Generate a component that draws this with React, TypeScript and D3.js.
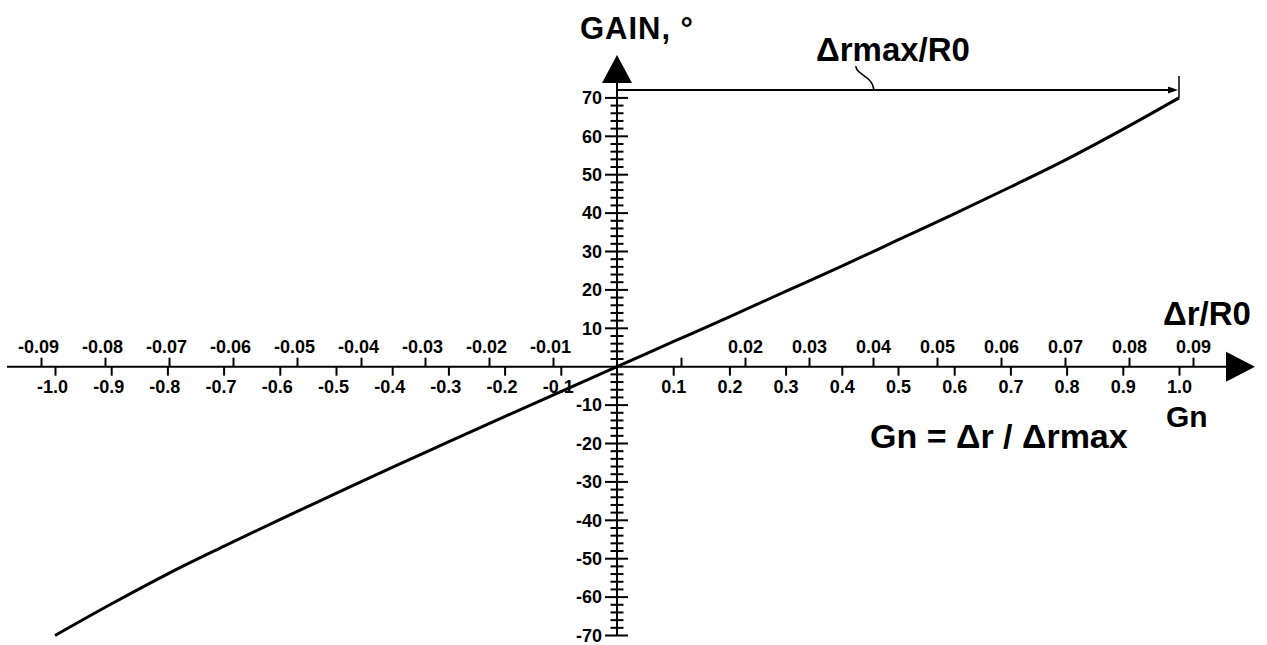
import React, { useEffect, useRef } from 'react';
import * as d3 from 'd3';

// normalised gain Gn (x) against GAIN in degrees (y)
const gnValues = [-1.0, -0.9, -0.8, -0.7, -0.6, -0.5, -0.4, -0.3, -0.2, -0.1, 0, 0.1, 0.2, 0.3, 0.4, 0.5, 0.6, 0.7, 0.8, 0.9, 1.0];
const gainValues = [-70, -61.8, -54, -46.8, -39.8, -33, -26.2, -19.6, -13, -6.5, 0, 6.5, 13, 19.6, 26.2, 33, 39.8, 46.8, 54, 61.8, 70];

const gnTicks = [-1.0, -0.9, -0.8, -0.7, -0.6, -0.5, -0.4, -0.3, -0.2, -0.1, 0.1, 0.2, 0.3, 0.4, 0.5, 0.6, 0.7, 0.8, 0.9, 1.0];
const rTicks = [-0.09, -0.08, -0.07, -0.06, -0.05, -0.04, -0.03, -0.02, -0.01, 0.01, 0.02, 0.03, 0.04, 0.05, 0.06, 0.07, 0.08, 0.09];
const rHiddenLabels = [0.01];
const gainMajor = [-70, -60, -50, -40, -30, -20, -10, 10, 20, 30, 40, 50, 60, 70];
const gainMinorStep = 2;

const FONT = '"Liberation Sans", Arial, Helvetica, sans-serif';

const App = () => {
  const svgRef = useRef<SVGSVGElement>(null);

  useEffect(() => {
    const width = 1267;
    const height = 645;
    const svg = d3.select(svgRef.current);
    svg.selectAll('*').remove();
    svg.attr('width', width).attr('height', height);

    const gnX = d3.scaleLinear().domain([0, 1]).range([617, 1179]);
    const rX = d3.scaleLinear().domain([0, 0.09]).range([617, 1193]);
    const y = d3.scaleLinear().domain([-70, 70]).range([635.5, 97.9]);

    const x0 = gnX(0);
    const y0 = y(0);

    const g = svg.append('g').attr('font-family', FONT).attr('font-weight', 'bold');

    // horizontal axis line + arrow
    g.append('line')
      .attr('x1', 7).attr('x2', 1228)
      .attr('y1', y0).attr('y2', y0)
      .attr('stroke', 'black').attr('stroke-width', 2);
    g.append('path')
      .attr('d', `M1226,${y0 - 15} L1255,${y0} L1226,${y0 + 15} Z`)
      .attr('fill', 'black');

    // vertical axis line + arrow
    g.append('line')
      .attr('x1', x0).attr('x2', x0)
      .attr('y1', y(-70)).attr('y2', 81)
      .attr('stroke', 'black').attr('stroke-width', 2);
    g.append('path')
      .attr('d', `M${x0 - 15},83 L${x0},55 L${x0 + 15},83 Z`)
      .attr('fill', 'black');

    // Gn axis (below)
    const gnAxis = d3.axisBottom(gnX)
      .tickValues(gnTicks)
      .tickSize(9)
      .tickPadding(5)
      .tickFormat(d => (d as number).toFixed(1));
    const gnG = g.append('g').attr('transform', `translate(0,${y0})`).call(gnAxis);
    gnG.select('.domain').remove();
    gnG.selectAll('line').attr('stroke', 'black').attr('stroke-width', 2);
    gnG.selectAll('text')
      .attr('font-family', FONT).attr('font-weight', 'bold').attr('font-size', 18).attr('fill', 'black')
      .attr('dx', d => ((d as number) < 0 ? '-0.17em' : 0));

    // Δr/R0 axis (above)
    const rAxis = d3.axisTop(rX)
      .tickValues(rTicks)
      .tickSize(9)
      .tickPadding(4.5)
      .tickFormat(d => (rHiddenLabels.includes(d as number) ? '' : (d as number).toFixed(2)));
    const rG = g.append('g').attr('transform', `translate(0,${y0})`).call(rAxis);
    rG.select('.domain').remove();
    rG.selectAll('line').attr('stroke', 'black').attr('stroke-width', 2);
    rG.selectAll('text')
      .attr('font-family', FONT).attr('font-weight', 'bold').attr('font-size', 18).attr('fill', 'black')
      .attr('dx', d => ((d as number) < 0 ? '-0.17em' : 0));

    // GAIN ticks (both sides of the axis)
    const minor = d3.range(-70, 70 + 0.001, gainMinorStep).filter(v => v !== 0);
    g.append('g').selectAll('line')
      .data(minor)
      .join('line')
      .attr('x1', d => (d % 10 === 0 ? x0 - 12 : x0 - 6.5))
      .attr('x2', d => (d % 10 === 0 ? x0 + 11 : x0 + 6.5))
      .attr('y1', d => y(d)).attr('y2', d => y(d))
      .attr('stroke', 'black').attr('stroke-width', 2);
    g.append('g').selectAll('text')
      .data(gainMajor)
      .join('text')
      .attr('x', x0 - 15)
      .attr('y', d => y(d))
      .attr('dy', '0.35em')
      .attr('text-anchor', 'end')
      .attr('font-size', 18)
      .text(d => String(d));

    // curve
    const pts = gnValues.map((v, i) => [v, gainValues[i]] as [number, number]);
    const line = d3.line<[number, number]>()
      .x(d => gnX(d[0]))
      .y(d => y(d[1]))
      .curve(d3.curveMonotoneX);
    g.append('path')
      .datum(pts)
      .attr('d', line)
      .attr('fill', 'none')
      .attr('stroke', 'black')
      .attr('stroke-width', 3)
      .attr('stroke-linejoin', 'round');

    // Δrmax/R0 dimension line
    const dimY = y(70) - 8;
    const xEnd = gnX(1);
    g.append('line')
      .attr('x1', x0).attr('x2', xEnd - 6)
      .attr('y1', dimY).attr('y2', dimY)
      .attr('stroke', 'black').attr('stroke-width', 2);
    g.append('path')
      .attr('d', `M${xEnd - 11},${dimY - 3.5} L${xEnd - 1},${dimY} L${xEnd - 11},${dimY + 3.5} Z`)
      .attr('fill', 'black');
    g.append('line')
      .attr('x1', xEnd).attr('x2', xEnd)
      .attr('y1', dimY - 14).attr('y2', y(70))
      .attr('stroke', 'black').attr('stroke-width', 1.5);
    const lx = gnX(0.425);
    g.append('path')
      .attr('d', `M${lx},${dimY - 24} C${lx},${dimY - 15} ${lx + 17},${dimY - 14} ${lx + 18},${dimY}`)
      .attr('fill', 'none')
      .attr('stroke', 'black')
      .attr('stroke-width', 1.5);

    // titles
    g.append('text').attr('x', 580).attr('y', 39).attr('font-size', 31)
      .attr('textLength', 113).attr('lengthAdjust', 'spacing')
      .text('GAIN, °');
    g.append('text').attr('x', 816).attr('y', 61).attr('font-size', 33)
      .text('Δrmax/R0');
    g.append('text').attr('x', 1163).attr('y', 325).attr('font-size', 33)
      .text('Δr/R0');
    g.append('text').attr('x', 1166).attr('y', 427).attr('font-size', 30)
      .text('Gn');
    g.append('text').attr('x', 870).attr('y', 448).attr('font-size', 34)
      .text('Gn = Δr / Δrmax');
  }, []);

  return (
    <div style={{ position: 'absolute', left: 0, top: 0, background: 'white' }}>
      <svg ref={svgRef} width={1267} height={645} style={{ display: 'block' }}></svg>
    </div>
  );
};

export default App;
